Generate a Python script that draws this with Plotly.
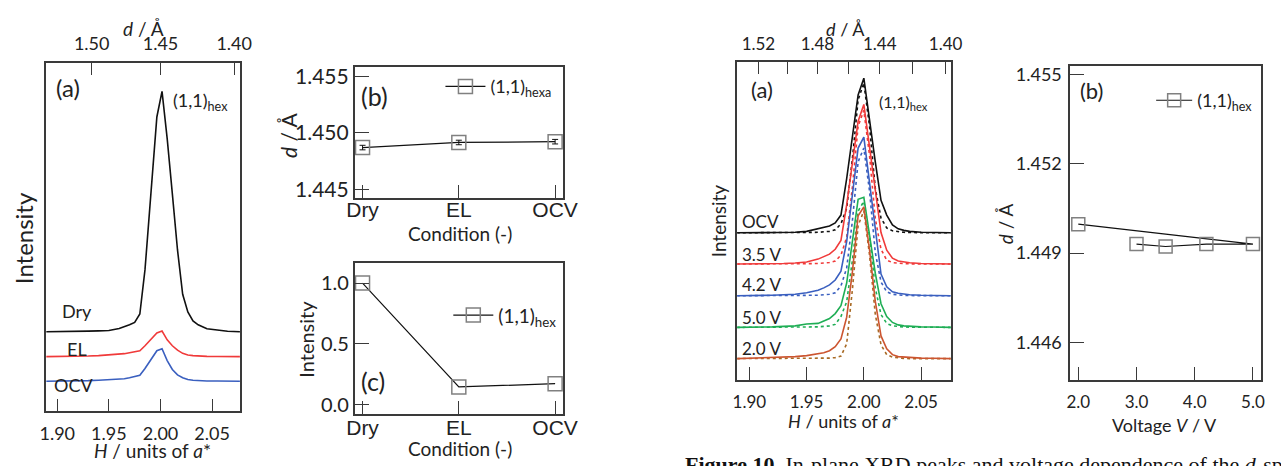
import plotly.graph_objects as go

W, H = 1281, 466

# ---------------- data: left panel (a) ----------------
h_left = [1.889, 1.90, 1.91, 1.92, 1.93, 1.94, 1.95, 1.96, 1.965, 1.97, 1.975, 1.98, 1.985, 1.99,
          1.9965, 2.0015, 2.0065, 2.0115, 2.0165, 2.0215, 2.0265, 2.0315, 2.0365, 2.045, 2.055, 2.065, 2.077]
int_dry = [0, 0, 0.2, 0.4, 0.6, 0.8, 1.2, 3.2, 4.8, 7, 9.5, 18, 63, 130,
           218, 244, 196, 140, 83, 38, 20, 11, 7, 3, 1.5, 0.5, 0]
int_el = [0, 0, 0, 0.3, 0.6, 1, 1.5, 2.5, 3, 4, 5, 6, 11, 17,
          24, 26, 17, 11, 6.5, 3.3, 1.7, 1, 0.5, 0.3, 0.2, 0, 0]
int_ocv = [0, 0, 0, 0.3, 0.6, 1, 1.5, 2, 2.5, 3.5, 4.5, 6, 13, 21,
           31, 33, 21, 12, 6.5, 3.5, 1.7, 1, 0.5, 0.3, 0.2, 0, 0]
left_names = ["Dry", "EL", "OCV"]
left_offsets = [80.3, 55, 30]
left_colors = ["#111111", "#f03a3a", "#3a5fbf"]
left_d_ticks = [1.50, 1.45, 1.40]
lattice = 2.9  # d = lattice / H

# ---------------- data: panel (b) and (c), conditions ----------------
conditions = ["Dry", "EL", "OCV"]
d_cond = [1.4487, 1.44915, 1.44922]
d_cond_err = [0.0002, 0.0002, 0.0002]
int_cond = [1.0, 0.145, 0.172]

# ---------------- data: right panel (a), voltages ----------------
h_right = [1.889, 1.90, 1.91, 1.92, 1.93, 1.94, 1.95, 1.96, 1.965, 1.97, 1.975, 1.98, 1.985, 1.99,
           1.995, 2.0, 2.005, 2.01, 2.015, 2.02, 2.025, 2.03, 2.035, 2.04, 2.05, 2.06, 2.076]
volt_names = ["OCV", "3.5 V", "4.2 V", "5.0 V", "2.0 V"]
volt_offsets = [149.4, 117.7, 85.5, 53.4, 21.7]
volt_colors = ["#111111", "#f03a3a", "#3a5fbf", "#1fae55", "#cc5530"]
dot_colors = ["#111111", "#f03a3a", "#3a5fbf", "#1fae55", "#a86a25"]
obs_ocv = [0, 0, 0, 0, 0.3, 0.5, 1.5, 4.5, 5.5, 7, 10, 18, 55, 100,
           140, 157, 112, 72, 33, 18, 8, 4, 2.5, 1.5, 0.5, 0.3, 0]
obs_35 = [0, 0, 0, 0.3, 0.5, 1, 2, 5, 7.5, 10, 15, 24, 60, 105,
          145, 162, 118, 72, 32, 14, 6, 3, 2, 1.3, 0.5, 0.3, 0]
obs_42 = [0, 0, 0.3, 0.5, 1, 1.5, 3, 5.5, 8, 11, 16, 25, 55, 100,
          150, 161, 115, 65, 22, 9, 4, 2.5, 1.5, 1, 0.5, 0.3, 0]
obs_50 = [0, 0, 0.3, 0.5, 1, 1.5, 3.5, 4, 6.5, 9, 14, 22, 45, 85,
          130, 132, 95, 55, 24, 11, 5, 2.5, 1.5, 1, 0.5, 0.3, 0]
obs_20 = [0, 0.3, 0.5, 1, 1.5, 2, 3, 4.5, 6, 8, 12, 20, 42, 88,
          145, 154, 110, 58, 23, 10, 4, 2, 1.5, 1, 0.5, 0.3, 0]
fit_ocv = [0, 0, 0, 0, 0, 0, 0.2, 0.5, 1, 1.5, 3, 9, 25, 75,
           135, 152, 108, 45, 15, 5, 2, 1, 0.5, 0.3, 0, 0, 0]
fit_35 = [0, 0, 0, 0, 0, 0, 0.2, 0.5, 1, 1.5, 3, 9, 27, 78,
          140, 156, 110, 46, 15, 4, 1.5, 0.8, 0.4, 0.2, 0, 0, 0]
fit_42 = [0, 0, 0, 0, 0, 0, 0.2, 0.5, 1, 1.5, 3, 10, 28, 76,
          136, 150, 106, 44, 14, 4, 1.5, 0.8, 0.4, 0.2, 0, 0, 0]
fit_50 = [0, 0, 0, 0, 0, 0, 0.2, 0.5, 1, 1.5, 3, 11, 26, 68,
          118, 128, 92, 40, 13, 4, 1.5, 0.8, 0.4, 0.2, 0, 0, 0]
fit_20 = [0, 0, 0, 0, 0, 0, 0, 0.2, 0.3, 0.5, 1, 2.5, 15, 70,
          135, 150, 105, 45, 14, 4, 1.5, 0.5, 0.2, 0, 0, 0, 0]
right_d_labelled = [1.52, 1.48, 1.44, 1.40]
right_d_minor = [1.50, 1.46, 1.42]

# ---------------- data: right panel (b), voltage dependence ----------------
voltage_seq = [3.0, 3.5, 4.2, 5.0, 2.0]
d_voltage = [1.4493, 1.44922, 1.4493, 1.4493, 1.44997]

# ---------------- helpers for layout (pixel -> paper) ----------------
def px(x):
    return x / W

def py(y):
    return 1 - y / H

FONT = "Lato"
AXC = "#3a3a3a"

fig = go.Figure()

# left panel (a)
for name, vals, off, col in zip(left_names, [int_dry, int_el, int_ocv], left_offsets, left_colors):
    fig.add_trace(go.Scatter(x=h_left, y=[v + off for v in vals], mode="lines",
                             line=dict(color=col, width=1.6), showlegend=False,
                             xaxis="x", yaxis="y", name=name))
# invisible carrier for the top (d-spacing) axis of the left panel
fig.add_trace(go.Scatter(x=[lattice / d for d in left_d_ticks], y=[0.5] * 3, mode="markers",
                         marker=dict(opacity=0), showlegend=False, hoverinfo="skip",
                         xaxis="x6", yaxis="y6"))

# panel (b)
fig.add_trace(go.Scatter(x=conditions, y=d_cond, mode="lines+markers",
                         error_y=dict(type="data", array=d_cond_err, color="#111", thickness=1, width=3),
                         line=dict(color="#111", width=1.2),
                         marker=dict(symbol="square-open", size=14, color="#808080", line=dict(width=1.5)),
                         name="(1,1)<sub>hexa</sub>", legend="legend", xaxis="x2", yaxis="y2"))
# panel (c)
fig.add_trace(go.Scatter(x=conditions, y=int_cond, mode="lines+markers",
                         line=dict(color="#111", width=1.2),
                         marker=dict(symbol="square-open", size=14, color="#808080", line=dict(width=1.5)),
                         name="(1,1)<sub>hex</sub>", legend="legend2", xaxis="x3", yaxis="y3"))

# right panel (a)
obs_all = [obs_ocv, obs_35, obs_42, obs_50, obs_20]
fit_all = [fit_ocv, fit_35, fit_42, fit_50, fit_20]
for name, ob, ft, off, col, dcol in zip(volt_names, obs_all, fit_all, volt_offsets, volt_colors, dot_colors):
    fig.add_trace(go.Scatter(x=h_right, y=[v + off for v in ft], mode="lines",
                             line=dict(color=dcol, width=1.6, dash="dot"), showlegend=False,
                             xaxis="x4", yaxis="y4", name=name + " fit"))
    fig.add_trace(go.Scatter(x=h_right, y=[v + off for v in ob], mode="lines",
                             line=dict(color=col, width=1.6), showlegend=False,
                             xaxis="x4", yaxis="y4", name=name))
fig.add_trace(go.Scatter(x=[lattice / d for d in right_d_labelled], y=[0.5] * 4, mode="markers",
                         marker=dict(opacity=0), showlegend=False, hoverinfo="skip",
                         xaxis="x7", yaxis="y7"))

# right panel (b)
fig.add_trace(go.Scatter(x=voltage_seq, y=d_voltage, mode="lines+markers",
                         line=dict(color="#111", width=1.2),
                         marker=dict(symbol="square-open", size=13, color="#808080", line=dict(width=1.5)),
                         name="(1,1)<sub>hex</sub>", legend="legend3", xaxis="x5", yaxis="y5"))

common = dict(showline=True, linecolor=AXC, linewidth=1.5, ticks="inside", ticklen=12, tickwidth=1.4,
              tickcolor=AXC, showgrid=False, zeroline=False, mirror=True)
hidden_y = dict(visible=False, range=[0, 1], fixedrange=True)

D1x, D1y = [px(39), px(236)], [py(413), py(60)]
D4x, D4y = [px(742), px(959.3)], [py(381.7), py(59)]

layout = dict(
    width=W, height=H, autosize=False, margin=dict(l=0, r=0, t=0, b=0),
    paper_bgcolor="white", plot_bgcolor="rgba(0,0,0,0)",
    font=dict(family=FONT, color="#222"),
    # left (a)
    xaxis=dict(domain=D1x, anchor="y", range=[1.8894, 2.077],
               tickvals=[1.90, 1.95, 2.00, 2.05], tickformat=".2f",
               tickfont=dict(size=18), ticklabelstandoff=6, **common),
    yaxis=dict(domain=D1y, anchor="x", range=[0, 353], showticklabels=False,
               **{**common, "ticks": ""}),
    xaxis6=dict(domain=D1x, anchor="y6", side="top", range=[1.8894, 2.077],
                tickvals=[lattice / d for d in left_d_ticks], ticktext=[f"{d:.2f}" for d in left_d_ticks],
                tickfont=dict(size=18), ticklabelstandoff=4,
                **{**common, "mirror": False}),
    yaxis6=dict(domain=D1y, anchor="x6", **hidden_y),
    # (b)
    xaxis2=dict(domain=[px(352.7), px(565)], anchor="y2", type="category", range=[-0.082, 2.085],
                tickfont=dict(size=21, family="Liberation Sans"), ticklabelstandoff=-8,
                **{**common, "ticklen": 13}),
    yaxis2=dict(domain=[py(196.7), py(64)], anchor="x2", range=[1.44427, 1.45581],
                tickvals=[1.445, 1.450, 1.455], tickformat=".3f", tickfont=dict(size=21),
                ticklabelstandoff=0, **{**common, "ticklen": 15}),
    # (c)
    xaxis3=dict(domain=[px(352.7), px(565)], anchor="y3", type="category", range=[-0.082, 2.085],
                tickfont=dict(size=21, family="Liberation Sans"), ticklabelstandoff=-6,
                **{**common, "ticklen": 13}),
    yaxis3=dict(domain=[py(416), py(262.7)], anchor="x3", range=[-0.0754, 1.167],
                tickvals=[0.0, 0.5, 1.0], tickformat=".1f", tickfont=dict(size=20),
                ticklabelstandoff=0, **{**common, "ticklen": 15}),
    # right (a)
    xaxis4=dict(domain=D4x, anchor="y4", range=[1.8894, 2.076],
                tickvals=[1.90, 1.95, 2.00, 2.05], tickformat=".2f",
                tickfont=dict(size=17), ticklabelstandoff=6, **{**common, "ticklen": 13}),
    yaxis4=dict(domain=D4y, anchor="x4", range=[0, 322.7], showticklabels=False,
                **{**common, "ticks": ""}),
    xaxis7=dict(domain=D4x, anchor="y7", side="top", range=[1.8894, 2.076],
                tickvals=[lattice / d for d in right_d_labelled], ticktext=[f"{d:.2f}" for d in right_d_labelled],
                minor=dict(tickvals=[lattice / d for d in right_d_minor], ticks="inside", ticklen=12,
                           tickwidth=1.4, tickcolor=AXC, showgrid=False),
                tickfont=dict(size=17), ticklabelstandoff=4,
                **{**common, "mirror": False}),
    yaxis7=dict(domain=D4y, anchor="x7", **hidden_y),
    # right (b)
    xaxis5=dict(domain=[px(1080.7), px(1275)], anchor="y5", range=[1.86, 5.14],
                tickvals=[2.0, 3.0, 4.0, 5.0], tickformat=".1f", tickfont=dict(size=17),
                ticklabelstandoff=6, **{**common, "ticklen": 13}),
    yaxis5=dict(domain=[py(381.7), py(63.3)], anchor="x5", range=[1.44473, 1.45528],
                tickvals=[1.446, 1.449, 1.452, 1.455], tickformat=".3f", tickfont=dict(size=18),
                ticklabelstandoff=3, **{**common, "ticklen": 14}),
    legend=dict(x=px(440), y=py(84), xanchor="left", yanchor="middle", bgcolor="rgba(0,0,0,0)",
                font=dict(size=18, family=FONT), itemwidth=40),
    legend2=dict(x=px(448), y=py(316), xanchor="left", yanchor="middle", bgcolor="rgba(0,0,0,0)",
                 font=dict(size=19, family=FONT), itemwidth=40),
    legend3=dict(x=px(1272), y=py(98), xanchor="right", yanchor="middle", bgcolor="rgba(0,0,0,0)",
                 font=dict(size=18, family=FONT), itemwidth=36),
)
fig.update_layout(**layout)


def note(text, x, y, size, xanchor="center", angle=0, family=FONT, color="#222"):
    fig.add_annotation(text=text, x=px(x), y=py(y), xref="paper", yref="paper", showarrow=False,
                       xanchor=xanchor, yanchor="middle", textangle=angle,
                       font=dict(size=size, family=family, color=color))

# left (a)
note("<i>d</i> / Å", 138, 25, 19)
note("(a)", 47, 85, 24, "left")
note("(1,1)<sub>hex</sub>", 166, 99, 18, "left")
note("Dry", 70, 312, 18)
note("EL", 70, 350, 18)
note("OCV", 67, 387, 18)
note("Intensity", 16, 238, 24, angle=-90)
note("<i>H</i> / units of <i>a</i>*", 147, 453, 19)
# (b)
note("(b)", 357, 93, 25, "left")
note("<i>d</i> / Å", 285, 133, 21, angle=-90)
note("Condition (-)", 460, 233, 19)
# (c)
note("(c)", 357, 383, 25, "left")
note("Intensity", 303, 340, 20, angle=-90)
note("Condition (-)", 460, 451, 19)
# right (a)
note("<i>d</i> / Å", 852, 25, 18)
note("(a)", 754, 87, 22, "left")
note("(1,1)<sub>hex</sub>", 884, 100, 16, "left")
for name, yy in zip(volt_names, [221, 254, 285, 318.5, 350]):
    note(name, 745, yy, 17, "left")
note("Intensity", 723, 220, 19, angle=-90)
note("<i>H</i> / units of <i>a</i>*", 850, 423, 18)
# right (b)
note("(b)", 1089, 88, 22, "left")
note("<i>d</i> / Å", 1015, 223, 19, angle=-90)
note("Voltage <i>V</i> / V", 1177, 427, 18)
# caption (cut at the bottom edge and the right edge)
fig.add_annotation(text="<b>Figure 10.</b> In-plane XRD peaks and voltage dependence of the <i>d</i>-spacing",
                   x=px(687), y=py(453), xref="paper", yref="paper", showarrow=False,
                   xanchor="left", yanchor="top", font=dict(size=22, family="Liberation Serif", color="#111"))

fig.write_html("out.html", config={"displayModeBar": False},
               post_script="document.body.style.margin='0px';document.body.style.overflow='hidden';")
